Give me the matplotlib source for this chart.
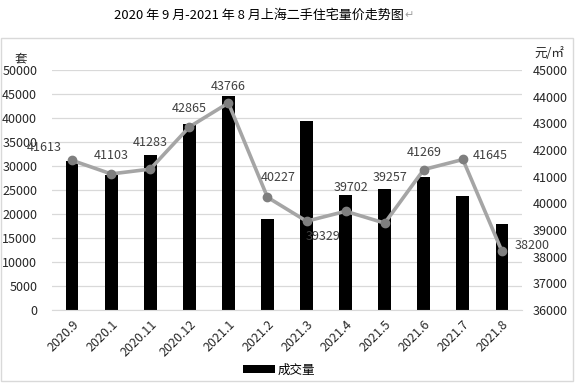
import matplotlib.pyplot as plt
from matplotlib.patches import Rectangle
import numpy as np

plt.rcParams['font.family'] = ['Noto Sans CJK SC', 'DejaVu Sans']

# 데이터
months = ['2020.9', '2020.1', '2020.11', '2020.12', '2021.1', '2021.2',
          '2021.3', '2021.4', '2021.5', '2021.6', '2021.7', '2021.8']
volume = [31000, 28200, 32300, 38800, 44600, 19000,
          39400, 24000, 25200, 27700, 23700, 17900]
price = [41613, 41103, 41283, 42865, 43766, 40227,
         39329, 39702, 39257, 41269, 41645, 38200]

# label offsets in points (dx, dy)
label_off = [(-20, 9), (0, 13), (0, 19), (0, 13), (0, 12), (8, 14),
             (12, -11), (4, 17), (4, 33), (0, 12), (20, 3), (22, 4)]

fig = plt.figure(figsize=(5.75, 3.85), dpi=100)
ax = fig.add_axes([0.0913, 0.195, 0.8157, 0.623])
x = np.arange(len(months))

ax.bar(x, volume, width=0.33, color='black', label='成交量', zorder=2)
ax.set_ylim(0, 50000)
ax.set_yticks(np.arange(0, 50001, 5000))
ax.set_xlim(-0.5, len(months) - 0.5)
ax.set_xticks(x)
ax.set_xticklabels(months, rotation=45, ha='right', rotation_mode='anchor',
                   fontsize=9, color='#262626')
ax.grid(axis='y', color='#d9d9d9', lw=0.9, zorder=0)
ax.set_axisbelow(True)
ax.tick_params(axis='y', length=0, pad=11, labelsize=9, labelcolor='#262626')
ax.tick_params(axis='x', length=0, pad=6)
for s in ['top', 'left', 'right']:
    ax.spines[s].set_visible(False)
ax.spines['bottom'].set_color('#d9d9d9')

ax2 = ax.twinx()
ax2.plot(x, price, color='#a5a5a5', lw=2.6, marker='o', ms=6,
         mfc='#7f7f7f', mec='#7f7f7f', zorder=3)
ax2.set_ylim(36000, 45000)
ax2.set_yticks(np.arange(36000, 45001, 1000))
ax2.tick_params(axis='y', length=0, pad=8, labelsize=9, labelcolor='#262626')
for s in ['top', 'left', 'right', 'bottom']:
    ax2.spines[s].set_visible(False)

for i, p in enumerate(price):
    ax2.annotate(str(p), (x[i], p), xytext=label_off[i], textcoords='offset points',
                 ha='center', va='center', fontsize=9, color='#404040')

ax.legend(loc='center', bbox_to_anchor=(0.483, -0.25), frameon=False,
          fontsize=9, handlelength=2.6, handleheight=0.6, handletextpad=0.2,
          borderpad=0, borderaxespad=0)

fig.text(0.026, 0.848, '套', fontsize=9, color='#262626', ha='left', va='center')
fig.text(0.955, 0.862, '元/㎡', fontsize=9, color='#262626', ha='center', va='center')

fig.text(404 / 575, 1 - 15 / 385, '2020 年 9 月-2021 年 8 月上海二手住宅量价走势图',
         fontsize=9.4, ha='right', va='center', color='black')
fig.text(404 / 575, 1 - 15 / 385, '↵', fontsize=8, ha='left', va='center', color='#a0a0a0')

fig.patches.append(Rectangle((1 / 575, 1 - 381 / 385), 572 / 575, 343 / 385,
                             transform=fig.transFigure, fill=False,
                             edgecolor='#d9d9d9', lw=1))

plt.savefig('out.png', dpi=100)
